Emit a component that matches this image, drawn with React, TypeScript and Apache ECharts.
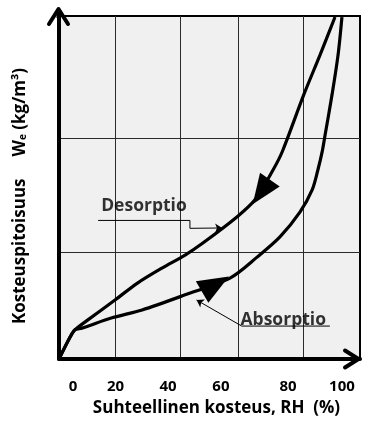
import React, { useEffect, useRef } from 'react';
import * as echarts from 'echarts';

// x: relative humidity position within the plot (0..100), y: moisture content (0..100 of plot height)
const xTickLabels = ['0', '20', '40', '60', '80', '100'];

const desorption: number[][] = [
  [0, 0], [3.7, 6.4], [5.3, 8.5], [9.6, 11.4], [18.6, 17.2], [26.2, 22.2],
  [34.2, 26.5], [41.9, 30.3], [47.8, 33.8], [59.1, 41.4], [65.1, 46.4],
  [71.1, 55.1], [74.2, 60.5], [81.3, 77.0], [86.7, 88.6], [91.7, 99.7],
];

const absorption: number[][] = [
  [0, 0], [3.7, 6.4], [5.3, 8.5], [7.6, 9.0], [17.6, 12.0], [27.6, 14.3],
  [41.9, 18.7], [56.8, 23.6], [65.8, 29.7], [73.4, 35.6], [80.1, 42.9],
  [84.1, 49.3], [86.0, 55.1], [87.4, 60.3], [88.4, 65.3], [90.7, 77.0],
  [92.7, 88.6], [94.0, 99.7],
];

const desorptionArrowAt = [67.2, 48.7];
const absorptionArrowAt = [52.0, 21.8];

const desorptionLabelAt = [14.0, 45.2];
const absorptionLabelAt = [60.3, 12.0];

export default function App() {
  const ref = useRef<HTMLDivElement>(null);
  useEffect(() => {
    const chart = echarts.init(ref.current!, null, { renderer: 'svg' });
    const L = 59, T = 16, R = 360, B = 359;
    const font = '"Open Sans", sans-serif';
    const labelPos = [4.65, 18.8, 36.2, 53.8, 76.1, 94.0];

    chart.setOption({
      animation: false,
      grid: {
        left: L, top: T, right: 383 - R, bottom: 428 - B,
        show: true, backgroundColor: '#f0f0f0', borderColor: '#000', borderWidth: 2,
      },
      xAxis: [
        {
          type: 'value', min: 0, max: 100,
          axisLine: { show: true, onZero: false, lineStyle: { color: '#000', width: 4 } },
          axisTick: { show: false, customValues: [18.6, 40.2, 59.5, 81.1] },
          axisLabel: { show: false },
          splitLine: { show: true, lineStyle: { color: '#2a2a2a', width: 1 } },
          name: 'Suhteellinen kosteus, RH  (%)',
          nameLocation: 'middle', nameGap: 39,
          nameTextStyle: { fontFamily: font, fontWeight: 'bold', fontSize: 17, color: '#000', padding: [0, 0, 0, 14] },
        },
        {
          type: 'value', min: 0, max: 100, position: 'bottom',
          axisLine: { show: false },
          axisTick: { show: false },
          splitLine: { show: false },
          axisLabel: {
            show: true, customValues: labelPos, margin: 18,
            fontFamily: font, fontWeight: 'bold', fontSize: 15, color: '#000',
            formatter: (v: number, i: number) => {
              const k = labelPos.indexOf(v);
              return xTickLabels[k >= 0 ? k : i] ?? '';
            },
          },
        },
      ],
      yAxis: {
        type: 'value', min: 0, max: 100,
        axisLine: { show: true, onZero: false, lineStyle: { color: '#000', width: 4 } },
        axisTick: { show: false, customValues: [31.2, 64.4] },
        axisLabel: { show: false },
        splitLine: { show: true, lineStyle: { color: '#2a2a2a', width: 1 } },
        name: '{a|Kosteuspitoisuus}{sp|}{a|W}{sub|e}{a| (kg/m³)}',
        nameLocation: 'middle', nameGap: 32, nameRotate: 90,
        nameTextStyle: {
          fontFamily: font, fontWeight: 'bold', fontSize: 17, color: '#000',
          padding: [0, 17, 0, 0],
          rich: {
            a: { fontFamily: font, fontWeight: 'bold', fontSize: 17, color: '#000' },
            sp: { width: 22 },
            sub: { fontFamily: font, fontWeight: 'bold', fontSize: 10, color: '#000', verticalAlign: 'bottom' },
          },
        },
      },
      series: [
        {
          name: 'Desorptio', type: 'line', data: desorption, smooth: 0.3,
          showSymbol: false, lineStyle: { color: '#000', width: 3.2 }, z: 3,
        },
        {
          name: 'Absorptio', type: 'line', data: absorption, smooth: 0.3,
          showSymbol: false, lineStyle: { color: '#000', width: 3.2 }, z: 3,
        },
        {
          type: 'scatter', symbol: 'triangle', symbolSize: [24, 30], symbolRotate: 145,
          itemStyle: { color: '#000', opacity: 1 }, data: [desorptionArrowAt], z: 4,
        },
        {
          type: 'scatter', symbol: 'triangle', symbolSize: [25, 31], symbolRotate: -60,
          itemStyle: { color: '#000', opacity: 1 }, data: [absorptionArrowAt], z: 4,
        },
        {
          type: 'scatter', symbolSize: 0, z: 5,
          data: [
            { value: desorptionLabelAt, name: 'Desorptio' },
            { value: absorptionLabelAt, name: 'Absorptio' },
          ],
          label: {
            show: true, position: 'right', distance: 0, formatter: '{b}',
            fontFamily: font, fontWeight: 'bold', fontSize: 17.5, color: '#000',
          },
        },
        {
          type: 'lines', coordinateSystem: 'cartesian2d', polyline: true, z: 5,
          lineStyle: { color: '#000', width: 1, opacity: 1 },
          data: [
            { coords: [[13.0, 40.4], [43.5, 40.4], [43.5, 38.1]] },
            { coords: [[90.0, 9.6], [60.7, 9.6]] },
          ],
        },
        {
          type: 'lines', coordinateSystem: 'cartesian2d', z: 5,
          symbol: ['none', 'arrow'], symbolSize: 7,
          lineStyle: { color: '#000', width: 1, opacity: 1 },
          data: [
            { coords: [[43.5, 38.1], [54.2, 38.2]] },
            { coords: [[60.7, 9.6], [45.7, 17.2]] },
          ],
        },
      ],
      graphic: [
        {
          type: 'polyline', z: 100,
          shape: { points: [[L - 0.5, T + 2], [L - 0.5, 9]] },
          style: { stroke: '#000', lineWidth: 4, fill: null },
        },
        {
          type: 'polyline', z: 100,
          shape: { points: [[L - 10, 24], [L - 0.5, 9], [L + 9, 24]] },
          style: { stroke: '#000', lineWidth: 4, fill: null, lineCap: 'round', lineJoin: 'round' },
        },
        {
          type: 'polyline', z: 100,
          shape: { points: [[R - 15, B - 8.5], [R - 1.5, B], [R - 15, B + 8.5]] },
          style: { stroke: '#000', lineWidth: 4, fill: null, lineCap: 'round', lineJoin: 'round' },
        },
      ],
    });
    return () => chart.dispose();
  }, []);
  return <div ref={ref} style={{ position: 'fixed', left: 0, top: 0, width: 383, height: 428 }} />;
}
